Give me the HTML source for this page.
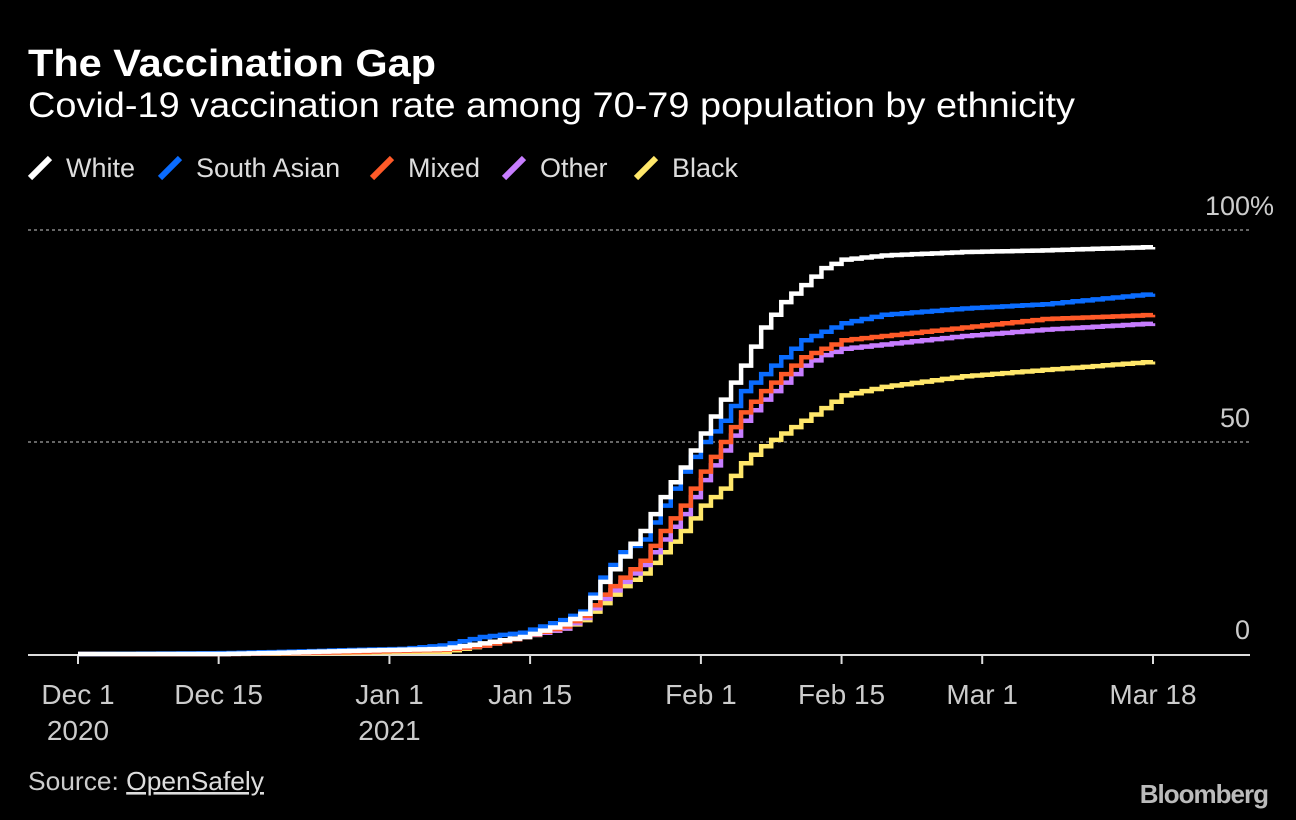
<!DOCTYPE html>
<html><head><meta charset="utf-8"><style>
body{margin:0;background:#000;width:1296px;height:820px;overflow:hidden;font-family:"Liberation Sans",sans-serif;color:#fff}
</style></head><body>
<svg width="1296" height="820" style="position:absolute;left:0;top:0">
<text x="28" y="76" font-size="38" font-weight="bold" fill="#fff" textLength="408" lengthAdjust="spacingAndGlyphs">The Vaccination Gap</text>
<text x="28" y="117" font-size="35" fill="#fff" textLength="1047" lengthAdjust="spacingAndGlyphs">Covid-19 vaccination rate among 70-79 population by ethnicity</text>
<g id="legend"></g>
<g id="grid"></g>
<g id="xaxis"></g>
<g id="series"></g>
<text x="28" y="790" font-size="26" fill="#ccc" textLength="236" lengthAdjust="spacingAndGlyphs">Source: <tspan text-decoration="underline" fill="#ddd">OpenSafely</tspan></text>
<text x="1268" y="803" font-size="26" font-weight="bold" fill="#bbb" text-anchor="end" letter-spacing="-1">Bloomberg</text>
</svg>
<script>
const days=[0,14,20,28,32,36,40,44,48,50,52,54,56,58,60,62,64,66,68,70,72,74,76,80,88,96,107];
const white=[0,0,0.3,0.8,1,1.2,2.5,4,7,9.5,17,23,29,37,44,52,60,68,77,83,87,91,93,94,94.8,95.2,96];
const southAsian=[0,0.2,0.5,1,1.2,2,4,5,8,10,18,24,27,35,43,50,55,62,66,70,74,76,78,80,81.5,82.5,85];
const mixed=[0,0,0.2,0.5,0.8,1,2,4,6.5,9,14,18,22,29,35,43,50,57,62,66,70,72,74,75,77,79,80];
const other=[0,0,0.2,0.5,0.8,1,2,4,6,8.5,13,17,21,27,33,41,48,55,60,64,68,70.5,72,73,75,76.5,78];
const black=[0,0,0.1,0.3,0.5,0.5,2,4,6,8,12,16,19,24,29,35,39,45,49,52,55,58,61,63,65.5,67,69];
const seriesNames=["White","South Asian","Mixed","Other","Black"];
const seriesColors=["#ffffff","#0a6cff","#ff5a28","#c77dff","#ffe76a"];
const seriesData=[white,southAsian,mixed,other,black];
const tickDays=[0,14,31,45,62,76,90,107];
const tickLabels=[["Dec 1","2020"],["Dec 15"],["Jan 1","2021"],["Jan 15"],["Feb 1"],["Feb 15"],["Mar 1"],["Mar 18"]];
const yTicks=[0,50,100];
const yTickLabels=["0","50","100"];
const NS="http://www.w3.org/2000/svg";
const X=d=>78+d*(1153-78)/107;
const Y=v=>654-v*4.24;
function mk(t,a,p){const e=document.createElementNS(NS,t);for(const k in a)e.setAttribute(k,a[k]);p.appendChild(e);return e;}
const grid=document.getElementById('grid');
yTicks.forEach((v,i)=>{
  if(v>0){const l=mk('line',{x1:28,x2:1250,y1:Y(v),y2:Y(v),stroke:'#888','stroke-dasharray':'3,3','stroke-width':1.5},grid);
  
  }
  const t=mk('text',{x:1250,y:Y(v)-15,'font-size':27,fill:'#ccc','text-anchor':'end'},grid);t.textContent=yTickLabels[i];
  
  
  if(v===100){const pc=mk('text',{x:1250,y:Y(v)-15,'font-size':27,fill:'#ccc'},grid);pc.textContent='%';
  
  }
});
const xa=document.getElementById('xaxis');
const base=mk('line',{x1:28,x2:1250,y1:655,y2:655,stroke:'#ddd','stroke-width':2},xa);


tickDays.forEach((d,i)=>{
  const tk=mk('line',{x1:X(d),x2:X(d),y1:655,y2:664,stroke:'#ddd','stroke-width':2},xa);
  
  
  tickLabels[i].forEach((s,j)=>{const t=mk('text',{x:X(d),y:704+j*36,'font-size':28,fill:'#ccc','text-anchor':'middle'},xa);t.textContent=s;
  
  });
});
const sg=document.getElementById('series');
for(let s=seriesData.length-1;s>=0;s--){
  const v=seriesData[s];let d='M'+X(days[0])+','+Y(v[0]);
  for(let i=1;i<days.length;i++){
    const step=days[i]-days[i-1];
    for(let k=1;k<=step;k++){const dd=days[i-1]+k;const val=v[i-1]+(v[i]-v[i-1])*k/step;d+=' H'+X(dd)+' V'+Y(val);}
  }
  const p=mk('path',{d:d,fill:'none',stroke:seriesColors[s],'stroke-width':4.5},sg);
  
  
}
const lg=document.getElementById('legend');
const lx=[30,160,372,504,636];
seriesNames.forEach((n,i)=>{
  const l=mk('line',{x1:lx[i],y1:178,x2:lx[i]+20,y2:158,stroke:seriesColors[i],'stroke-width':6},lg);
  
  
  const t=mk('text',{x:lx[i]+36,y:177,'font-size':27,fill:'#ddd'},lg);t.textContent=n;
  
  
});
</script>
</body></html>
